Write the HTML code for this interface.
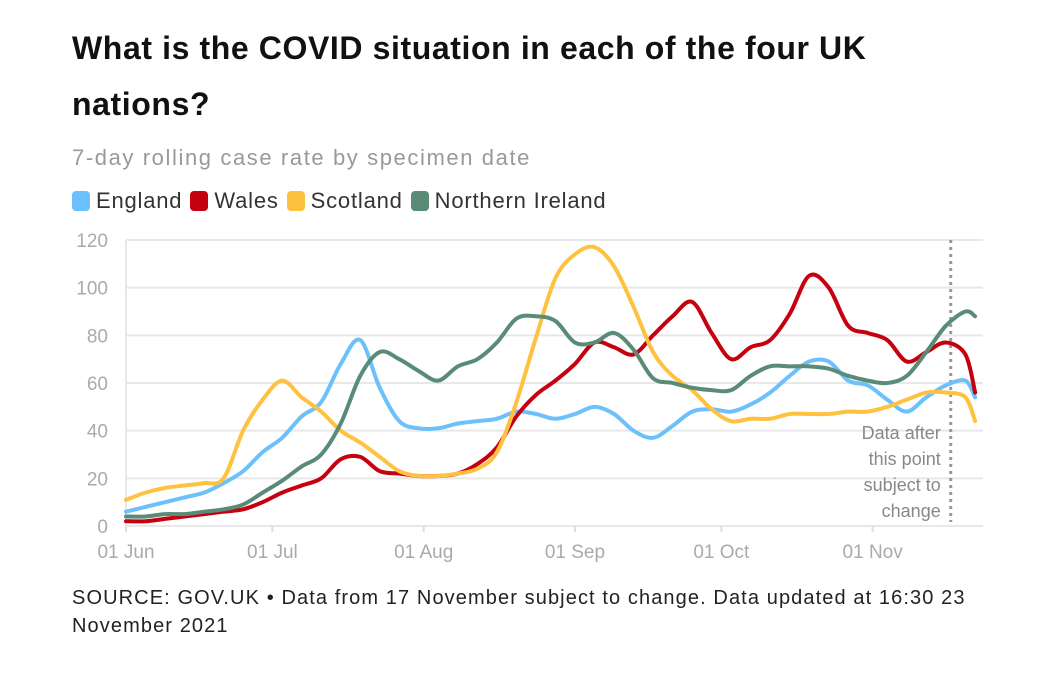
<!DOCTYPE html>
<html><head><meta charset="utf-8"><style>
body{margin:0;width:1062px;height:680px;background:#fff;font-family:"Liberation Sans",sans-serif;overflow:hidden;position:relative}
#title{position:absolute;left:72px;top:20px;width:830px;font-size:32px;letter-spacing:0.6px;font-weight:bold;line-height:56px;color:#111}
#sub{position:absolute;left:72px;top:145px;font-size:22px;letter-spacing:1.6px;color:#999}
#legend{position:absolute;left:72px;top:188px;font-size:22px;letter-spacing:0.8px;color:#333;display:flex;gap:6px}
.li{display:flex;align-items:center;margin-right:2px}
.sw{width:18px;height:20px;border-radius:4px;margin-right:6px}
#src{position:absolute;left:72px;top:584px;width:950px;font-size:20px;letter-spacing:1.1px;line-height:28px;color:#222}
svg{position:absolute;left:0;top:0}
</style></head><body>
<div id="title">What is the COVID situation in each of the four UK nations?</div>
<div id="sub">7-day rolling case rate by specimen date</div>
<div id="legend">
<div class="li"><div class="sw" style="background:#6cc0fb"></div>England</div>
<div class="li"><div class="sw" style="background:#c5000f"></div>Wales</div>
<div class="li"><div class="sw" style="background:#ffc140"></div>Scotland</div>
<div class="li"><div class="sw" style="background:#5a8b77"></div>Northern Ireland</div>
</div>
<svg id="chart" width="1062" height="680"></svg>
<div id="src">SOURCE: GOV.UK • Data from 17 November subject to change. Data updated at 16:30 23 November 2021</div>
<script>
const days=[0,4,8,12,16,20,24,28,32,36,40,44,48,52,56,60,64,68,72,76,80,84,88,92,96,100,104,108,112,116,120,124,128,132,136,140,144,148,152,156,160,164,168,172,174];
const england=[6,8,10,12,14,18,23,31,37,46,52,68,78,58,44,41,41,43,44,45,48,47,45,47,50,47,40,37,42,48,49,48,51,56,63,69,69,61,59,53,48,54,59,61,54];
const wales=[2,2,3,4,5,6,7,10,14,17,20,28,29,23,22,21,21,22,26,33,46,55,61,68,77,75,72,80,88,94,81,70,75,78,89,105,100,84,81,78,69,73,77,72,56];
const scotland=[11,14,16,17,18,20,40,53,61,54,48,40,35,29,23,21,21,22,24,31,52,79,104,114,117,109,92,73,63,57,49,44,45,45,47,47,47,48,48,50,53,56,56,54,44];
const northernIreland=[4,4,5,5,6,7,9,14,19,25,30,43,63,73,70,65,61,67,70,77,87,88,86,77,77,81,74,62,60,58,57,57,63,67,67,67,66,63,61,60,63,73,84,90,88];
const yTicks=[0,20,40,60,80,100,120];
const xTickDays=[0,30,61,92,122,153];
const xTickLabels=["01 Jun","01 Jul","01 Aug","01 Sep","01 Oct","01 Nov"];
const cutoffDay=169;
const NS="http://www.w3.org/2000/svg";
const svg=document.getElementById('chart');
const X0=126,X1=983,Y0=526,Y1=240;
const xs=d=>X0+d*4.88;
const ys=v=>Y0-(v/120)*(Y0-Y1);
function mk(t,a,p){const e=document.createElementNS(NS,t);for(const k in a)e.setAttribute(k,a[k]);(p||svg).appendChild(e);return e;}
yTicks.forEach(v=>{
 const g=mk('line',{x1:X0,x2:X1,y1:ys(v),y2:ys(v),stroke:'#e8e8e8','stroke-width':2});
 
 
 const t=mk('text',{x:108,y:ys(v)+7,'text-anchor':'end','font-size':19,fill:'#aaa','font-family':'Liberation Sans, sans-serif'});
 t.textContent=v;
 
 
});
const ax=mk('line',{x1:X0,x2:X0,y1:Y1,y2:Y0+6,stroke:'#e8e8e8','stroke-width':2});


xTickDays.forEach((d,i)=>{
 const tk=mk('line',{x1:xs(d),x2:xs(d),y1:Y0,y2:Y0+6,stroke:'#ddd','stroke-width':2});
 
 
 const t=mk('text',{x:xs(d),y:558,'text-anchor':'middle','font-size':19,fill:'#aaa','font-family':'Liberation Sans, sans-serif'});
 t.textContent=xTickLabels[i];
 
 
});
const cl=mk('line',{x1:xs(cutoffDay),x2:xs(cutoffDay),y1:Y1,y2:Y0-4,stroke:'#999','stroke-width':3,'stroke-dasharray':'3 4'});


["Data after","this point","subject to","change"].forEach((s,i)=>{
 const t=mk('text',{x:xs(cutoffDay)-10,y:439+i*26,'text-anchor':'end','font-size':18,fill:'#888','font-family':'Liberation Sans, sans-serif'});
 t.textContent=s;
 
 
});
function path(vals){
 const p=vals.map((v,i)=>[xs(days[i]),ys(v)]);
 let d='M'+p[0][0]+','+p[0][1];
 for(let i=0;i<p.length-1;i++){
  const a=p[i-1]||p[i],b=p[i],c=p[i+1],e=p[i+2]||c;
  const c1=[b[0]+(c[0]-a[0])/6,b[1]+(c[1]-a[1])/6],c2=[c[0]-(e[0]-b[0])/6,c[1]-(e[1]-b[1])/6];
  d+=' C'+c1+' '+c2+' '+c;
 }
 return d;
}
[[england,'#6cc0fb','england'],[wales,'#c5000f','wales'],[scotland,'#ffc140','scotland'],[northernIreland,'#5a8b77','northern-ireland']].forEach(([v,c,n])=>{
 const l=mk('path',{d:path(v),fill:'none',stroke:c,'stroke-width':4,'stroke-linejoin':'round','stroke-linecap':'round'});
 
 
});
</script>
</body></html>
